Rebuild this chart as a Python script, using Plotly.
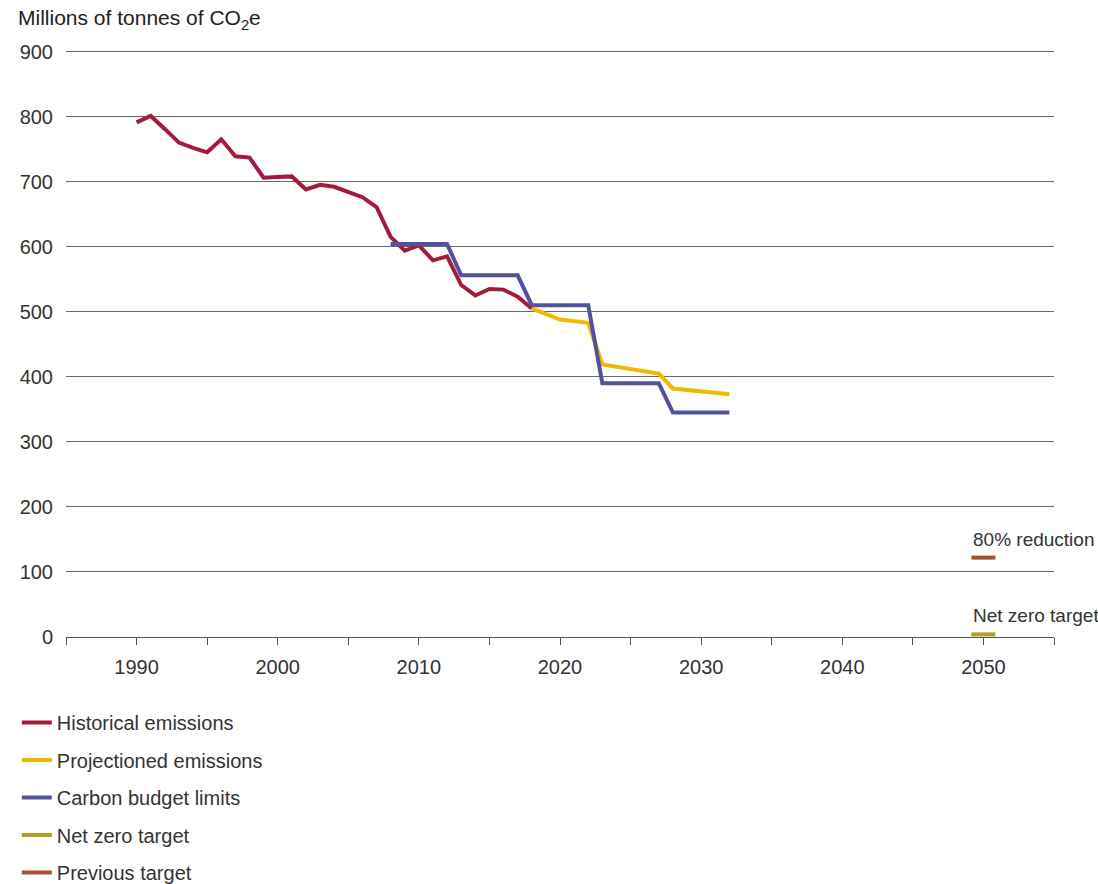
import plotly.graph_objects as go

# ---- data ----
hist_years = [1990, 1991, 1992, 1993, 1994, 1995, 1996, 1997, 1998, 1999, 2000,
              2001, 2002, 2003, 2004, 2005, 2006, 2007, 2008, 2009, 2010, 2011,
              2012, 2013, 2014, 2015, 2016, 2017, 2018]
hist_values = [791, 801, 781, 760, 752, 745, 765, 739, 737, 706, 707,
               708, 688, 695, 692, 684, 676, 661, 615, 594, 602, 579,
               585, 541, 525, 535, 534, 523, 505]

proj_years = [2018, 2020, 2022, 2023, 2027, 2028, 2032]
proj_values = [505, 488, 483, 419, 405, 382, 373]

budget_years = [2008, 2012, 2013, 2017, 2018, 2022, 2023, 2027, 2028, 2032]
budget_values = [604, 604, 556, 556, 510, 510, 390, 390, 345, 345]

target_year = 2050
net_zero_value = 4
previous_target_value = 122

x_tick_years = list(range(1990, 2060, 10))
x_tick_labels = [str(y) for y in x_tick_years]
y_tick_values = list(range(0, 1000, 100))

# ---- styles ----
FONT = "Liberation Sans, Arial, sans-serif"
C_HIST = "#A6193C"
C_PROJ = "#F0B900"
C_BUDGET = "#52519E"
C_NZ = "#ADA023"
C_PREV = "#A3532F"
LW = 4
half = 0.85

W, H = 1098, 884

fig = go.Figure()
fig.add_trace(go.Scatter(x=hist_years, y=hist_values, mode="lines",
                         name="Historical emissions", legendgroup="a",
                         line=dict(color=C_HIST, width=LW)))
fig.add_trace(go.Scatter(x=proj_years, y=proj_values, mode="lines",
                         name="Projectioned emissions", legendgroup="b",
                         line=dict(color=C_PROJ, width=LW)))
fig.add_trace(go.Scatter(x=budget_years, y=budget_values, mode="lines",
                         name="Carbon budget limits", legendgroup="c",
                         line=dict(color=C_BUDGET, width=LW)))
fig.add_trace(go.Scatter(x=[target_year - half, target_year + half],
                         y=[net_zero_value, net_zero_value], mode="lines",
                         name="Net zero target", legendgroup="d",
                         line=dict(color=C_NZ, width=LW)))
fig.add_trace(go.Scatter(x=[target_year - half, target_year + half],
                         y=[previous_target_value, previous_target_value], mode="lines",
                         name="Previous target", legendgroup="e",
                         line=dict(color=C_PREV, width=LW)))

fig.add_annotation(x=target_year - half, y=previous_target_value, text="80% reduction",
                   showarrow=False, xanchor="left", yanchor="bottom", yshift=6,
                   font=dict(family=FONT, size=19, color="#333333"))
fig.add_annotation(x=target_year - half, y=net_zero_value, text="Net zero target",
                   showarrow=False, xanchor="left", yanchor="bottom", yshift=6,
                   font=dict(family=FONT, size=19, color="#333333"))

fig.update_layout(
    width=W, height=H,
    margin=dict(l=66, r=44, t=44.5, b=247, autoexpand=False),
    paper_bgcolor="white", plot_bgcolor="white",
    font=dict(family=FONT, size=20, color="#333333"),
    showlegend=True,
    legend=dict(xref="container", yref="container", x=16.8 / W, y=1 - 703 / H,
                xanchor="left", yanchor="top", tracegroupgap=8.5,
                font=dict(family=FONT, size=20, color="#333333"),
                bgcolor="rgba(0,0,0,0)"),
    title=dict(text="Millions of tonnes of CO<sub>2</sub>e", x=18 / W, xref="container",
               xanchor="left", y=1 - 18 / H, yref="container", yanchor="middle",
               pad=dict(l=0, r=0, t=0, b=0),
               font=dict(family=FONT, size=21, color="#222222")),
)
fig.update_xaxes(range=[1985, 2055], tickmode="array", tickvals=x_tick_years,
                 ticktext=x_tick_labels, ticks="outside", ticklen=7, tickcolor="#555555",
                 minor=dict(tick0=1985, dtick=5, ticks="outside", ticklen=7,
                            tickcolor="#555555", showgrid=False),
                 showline=True, linecolor="#555555", linewidth=1, showgrid=False,
                 zeroline=False, ticklabelstandoff=5)
fig.update_yaxes(range=[0, 910], tickmode="array", tickvals=y_tick_values,
                 showgrid=True, gridcolor="#6a6a6a", gridwidth=1, zeroline=False,
                 showline=False, ticks="", ticklabelstandoff=12)

fig.write_html("out.html", config={"displayModeBar": False},
               post_script="document.body.style.margin='0';document.body.style.overflow='hidden';")
